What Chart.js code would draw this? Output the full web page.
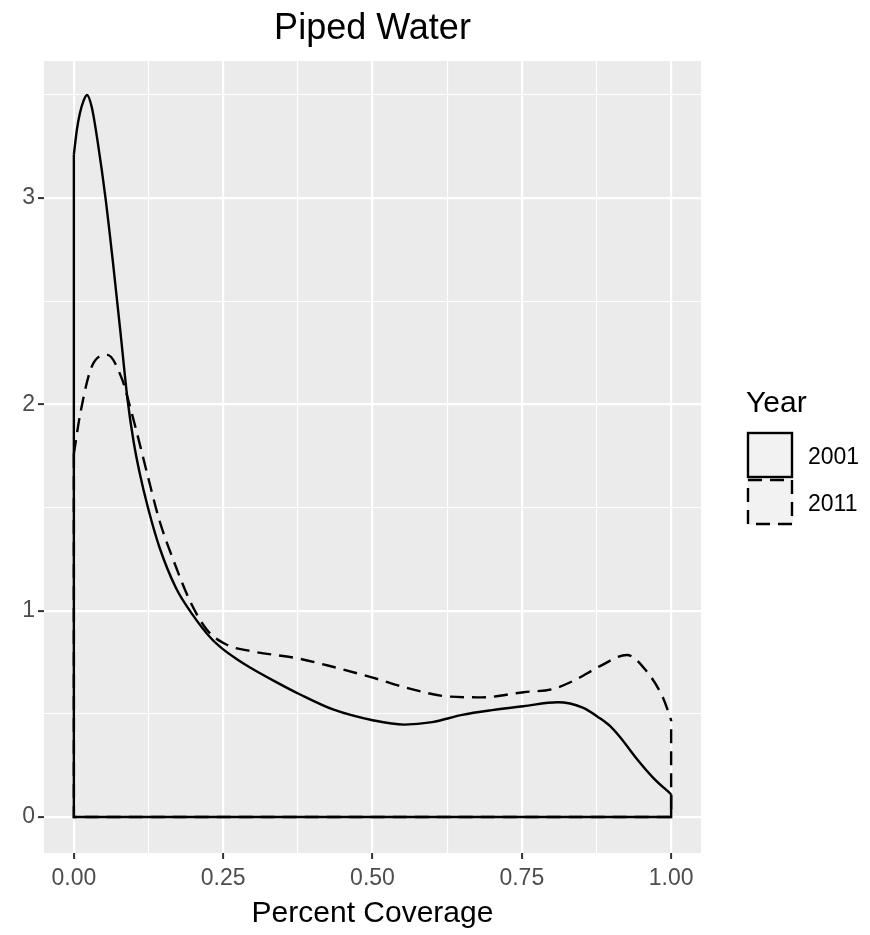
<!DOCTYPE html>
<html>
<head>
<meta charset="utf-8">
<script src="https://cdn.jsdelivr.net/npm/chart.js@4/dist/chart.umd.min.js"></script>
<style>
  html, body { margin: 0; padding: 0; background: #ffffff; }
  #wrap { width: 870px; height: 935px; }
</style>
</head>
<body>
<div id="wrap"><canvas id="densChart" width="870" height="935"></canvas></div>
<script>
// Density curves (x = percent coverage, y = density)
const years = ['2001', '2011'];

const x2001 = [0, 0.005, 0.010, 0.016, 0.022, 0.030, 0.040, 0.053, 0.065, 0.078, 0.090, 0.100, 0.110,
  0.124, 0.143, 0.171, 0.199, 0.230, 0.249, 0.273, 0.295, 0.335, 0.378, 0.435, 0.502, 0.553, 0.600,
  0.650, 0.700, 0.753, 0.810, 0.852, 0.880, 0.898, 0.915, 0.943, 0.970, 1.0];
const dens2001 = [3.21, 3.33, 3.41, 3.47, 3.50, 3.44, 3.27, 3.00, 2.70, 2.35, 2.02, 1.82, 1.67,
  1.50, 1.31, 1.11, 0.98, 0.865, 0.815, 0.765, 0.725, 0.66, 0.595, 0.52, 0.468, 0.448, 0.46,
  0.495, 0.518, 0.537, 0.556, 0.53, 0.48, 0.44, 0.385, 0.28, 0.19, 0.11];

const x2011 = [0, 0.011, 0.031, 0.056, 0.081, 0.093, 0.104, 0.124, 0.143, 0.166, 0.194, 0.222, 0.256,
  0.295, 0.378, 0.435, 0.502, 0.559, 0.627, 0.683, 0.753, 0.801, 0.840, 0.880, 0.926, 0.958, 0.986, 1.0];
const dens2011 = [1.76, 1.96, 2.19, 2.24, 2.12, 2.00, 1.88, 1.65, 1.44, 1.25, 1.05, 0.91, 0.835,
  0.805, 0.767, 0.727, 0.674, 0.625, 0.584, 0.58, 0.605, 0.62, 0.665, 0.73, 0.785, 0.71, 0.58, 0.47];

// Axis ticks
const xTicks = [0, 0.25, 0.5, 0.75, 1];
const xTickLabels = ['0.00', '0.25', '0.50', '0.75', '1.00'];
const xMinor = [0.125, 0.375, 0.625, 0.875];
const yTicks = [0, 1, 2, 3];
const yTickLabels = ['0', '1', '2', '3'];
const yMinor = [0.5, 1.5, 2.5, 3.5];

const FONT = '"Liberation Sans", Arial, Helvetica, sans-serif';
const DASH = [14, 8];

const toPts = (xs, ys) => xs.map((x, i) => ({ x: x, y: ys[i] }));
// closing outline of a density polygon: down the left edge, along zero, up the right edge
const outline = (xs, ys) => [
  { x: xs[0], y: ys[0] }, { x: xs[0], y: 0 },
  { x: xs[xs.length - 1], y: 0 }, { x: xs[xs.length - 1], y: ys[ys.length - 1] }
];

const lineSet = (data, dash, smooth) => ({
  data: data,
  showLine: true,
  borderColor: '#000000',
  borderWidth: 2.4,
  borderDash: dash,
  pointRadius: 0,
  fill: false,
  tension: 0,
  cubicInterpolationMode: smooth ? 'monotone' : 'default'
});

const isMajor = (list, v) => list.some(t => Math.abs(t - v) < 1e-9);

const gridOpts = (majors) => ({
  color: '#ffffff',
  lineWidth: c => isMajor(majors, c.tick.value) ? 2.2 : 1.1,
  tickColor: c => isMajor(majors, c.tick.value) ? '#333333' : 'rgba(0,0,0,0)',
  tickWidth: 2,
  tickLength: 6,
  drawTicks: true
});

// panel background, title and legend
const ggPlugin = {
  id: 'ggStyle',
  beforeDraw(chart) {
    const a = chart.chartArea, ctx = chart.ctx;
    ctx.save();
    ctx.fillStyle = '#EBEBEB';
    ctx.fillRect(a.left, a.top, a.right - a.left, a.bottom - a.top);
    ctx.restore();
  },
  afterDraw(chart) {
    const a = chart.chartArea, ctx = chart.ctx;
    ctx.save();
    ctx.fillStyle = '#000000';
    ctx.font = '36px ' + FONT;
    ctx.textAlign = 'center';
    ctx.textBaseline = 'middle';
    ctx.fillText('Piped Water', (a.left + a.right) / 2, 29);

    // legend
    ctx.textAlign = 'left';
    ctx.font = '30px ' + FONT;
    ctx.fillText('Year', 746, 404);
    const bx = 747, by = 432, bs = 46;
    years.forEach((yr, i) => {
      const top = by + i * (bs + 1);
      ctx.fillStyle = '#F2F2F2';
      ctx.fillRect(bx, top, bs, bs);
      ctx.strokeStyle = '#000000';
      ctx.lineWidth = 2.4;
      ctx.setLineDash(i === 0 ? [] : DASH);
      ctx.strokeRect(bx + 1, top + 1, bs - 2, bs - 2);
      ctx.setLineDash([]);
      ctx.fillStyle = '#000000';
      ctx.font = '23px ' + FONT;
      ctx.fillText(yr, 808, top + bs / 2 + 3);
    });
    ctx.restore();
  }
};

new Chart(document.getElementById('densChart').getContext('2d'), {
  type: 'scatter',
  data: {
    datasets: [
      lineSet(toPts(x2001, dens2001), [], true),
      lineSet(outline(x2001, dens2001), [], false),
      lineSet(toPts(x2011, dens2011), DASH, true),
      lineSet(outline(x2011, dens2011), DASH, false)
    ]
  },
  options: {
    responsive: false,
    animation: false,
    layout: { padding: { left: 0, right: 169, top: 61, bottom: 0 } },
    plugins: {
      legend: { display: false },
      title: { display: false },
      tooltip: { enabled: false }
    },
    scales: {
      x: {
        type: 'linear',
        min: -0.05,
        max: 1.05,
        afterBuildTicks: s => { s.ticks = xTicks.concat(xMinor).sort((p, q) => p - q).map(v => ({ value: v })); },
        afterFit: s => { s.height = 82; },
        grid: gridOpts(xTicks),
        border: { display: false },
        ticks: {
          autoSkip: false,
          maxRotation: 0,
          padding: 6,
          color: '#4D4D4D',
          font: { family: FONT, size: 23 },
          callback: v => isMajor(xTicks, v) ? xTickLabels[xTicks.findIndex(t => Math.abs(t - v) < 1e-9)] : ''
        },
        title: {
          display: true,
          text: 'Percent Coverage',
          color: '#000000',
          font: { family: FONT, size: 30 },
          padding: { top: 0, bottom: 3 }
        }
      },
      y: {
        type: 'linear',
        min: -0.1745,
        max: 3.6645,
        afterBuildTicks: s => { s.ticks = yTicks.concat(yMinor).sort((p, q) => p - q).map(v => ({ value: v })); },
        afterFit: s => { s.width = 44; },
        grid: gridOpts(yTicks),
        border: { display: false },
        ticks: {
          autoSkip: false,
          padding: 3,
          color: '#4D4D4D',
          font: { family: FONT, size: 23 },
          callback: v => isMajor(yTicks, v) ? yTickLabels[yTicks.findIndex(t => Math.abs(t - v) < 1e-9)] : ''
        }
      }
    }
  },
  plugins: [ggPlugin]
});
</script>
</body>
</html>
